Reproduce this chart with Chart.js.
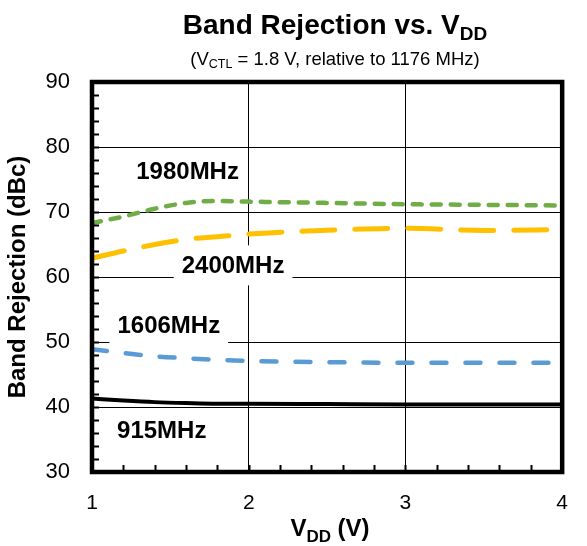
<!DOCTYPE html>
<html>
<head>
<meta charset="utf-8">
<script src="https://cdn.jsdelivr.net/npm/chart.js@4.4.1/dist/chart.umd.min.js"></script>
<style>
  html, body { margin: 0; padding: 0; background: #fff; }
  #wrap { width: 587px; height: 546px; position: relative; }
</style>
</head>
<body>
<div id="wrap"><canvas id="bandChart"></canvas></div>
<script>
// supply voltage points (V)
const vdd = [1, 1.2, 1.4, 1.6, 1.8, 2, 2.5, 3, 3.5, 4];
// band rejection (dBc), relative to 1176 MHz
const rej1980 = [68.3, 69.3, 70.5, 71.4, 71.7, 71.6, 71.4, 71.2, 71.1, 71.0];
const rej2400 = [62.9, 64.0, 65.0, 65.8, 66.2, 66.6, 67.2, 67.5, 67.15, 67.3];
const rej1606 = [48.9, 48.3, 47.8, 47.5, 47.25, 47.1, 46.9, 46.8, 46.8, 46.8];
const rej915 = [41.3, 41.0, 40.75, 40.6, 40.5, 40.5, 40.45, 40.4, 40.4, 40.4];

const xTicks = [1, 2, 3, 4];
const yTicks = [30, 40, 50, 60, 70, 80, 90];

// in-plot series labels
const bandLabels = ['1980MHz', '2400MHz', '1606MHz', '915MHz'];
const labelVdd = [1.61, 1.9, 1.49, 1.445];
const labelRej = [76.3, 61.8, 52.5, 36.4];

const FONT = '"Liberation Sans", Arial, sans-serif';

function pts(ys) {
  return vdd.map((v, i) => ({ x: v, y: ys[i] }));
}

// draws text pieces with subscripts, centred on cx
function drawParts(ctx, parts, cx, y) {
  let total = 0;
  parts.forEach(p => {
    ctx.font = p.font;
    p.w = ctx.measureText(p.t).width;
    total += p.w;
  });
  let x = cx - total / 2;
  ctx.textAlign = 'left';
  ctx.textBaseline = 'alphabetic';
  parts.forEach(p => {
    ctx.font = p.font;
    ctx.fillText(p.t, x, y + (p.dy || 0));
    x += p.w;
  });
}

const decorations = {
  id: 'decorations',
  beforeDatasetsDraw(chart) {
    const { ctx, scales } = chart;
    ctx.save();
    ctx.font = 'bold 24px ' + FONT;
    ctx.textAlign = 'center';
    ctx.textBaseline = 'middle';
    bandLabels.forEach((txt, i) => {
      const px = scales.x.getPixelForValue(labelVdd[i]);
      const py = scales.y.getPixelForValue(labelRej[i]);
      const w = ctx.measureText(txt).width;
      ctx.fillStyle = '#fff';
      ctx.fillRect(px - w / 2 - 8, py - 20, w + 16, 40);
      ctx.fillStyle = '#000';
      ctx.fillText(txt, px, py + 1);
    });
    ctx.restore();
  },
  afterDatasetsDraw(chart) {
    const { ctx, chartArea: a, scales } = chart;
    ctx.save();
    ctx.strokeStyle = '#000';
    // minor ticks
    ctx.lineWidth = 2;
    ctx.beginPath();
    for (let v = 32; v < 90; v += 2) {
      const py = Math.round(scales.y.getPixelForValue(v)) + 0.5;
      ctx.moveTo(a.left, py);
      ctx.lineTo(a.left + 7, py);
    }
    for (let k = 1; k < 15; k++) {
      const px = Math.round(scales.x.getPixelForValue(1 + k * 0.2)) + 0.5;
      ctx.moveTo(px, a.bottom);
      ctx.lineTo(px, a.bottom - 7);
    }
    ctx.stroke();
    // frame
    ctx.lineWidth = 4.5;
    ctx.strokeRect(a.left, a.top, a.right - a.left, a.bottom - a.top);
    ctx.restore();
  },
  afterDraw(chart) {
    const { ctx } = chart;
    ctx.save();
    ctx.fillStyle = '#000';
    drawParts(ctx, [
      { t: 'Band Rejection vs. V', font: 'bold 28px ' + FONT },
      { t: 'DD', font: 'bold 19px ' + FONT, dy: 6 }
    ], 335, 34);
    drawParts(ctx, [
      { t: '(V', font: '18.5px ' + FONT },
      { t: 'CTL', font: '12.5px ' + FONT, dy: 3 },
      { t: ' = 1.8 V, relative to 1176 MHz)', font: '18.5px ' + FONT }
    ], 335, 65);
    drawParts(ctx, [
      { t: 'V', font: 'bold 24px ' + FONT },
      { t: 'DD', font: 'bold 17px ' + FONT, dy: 6 },
      { t: ' (V)', font: 'bold 24px ' + FONT }
    ], 330, 536);
    ctx.restore();
  }
};

const ctx = document.getElementById('bandChart').getContext('2d');

const chart = new Chart(ctx, {
  type: 'line',
  data: {
    datasets: [
      {
        label: '1980MHz',
        data: pts(rej1980),
        borderColor: '#70AD47',
        borderWidth: 4.5,
        borderDash: [9, 10],
        borderCapStyle: 'round',
      },
      {
        label: '2400MHz',
        data: pts(rej2400),
        borderColor: '#FFC000',
        borderWidth: 5,
        borderDash: [33, 20],
        borderCapStyle: 'round',
      },
      {
        label: '1606MHz',
        data: pts(rej1606),
        borderColor: '#5B9BD5',
        borderWidth: 4.5,
        borderDash: [15, 19],
        borderCapStyle: 'round',
      },
      {
        label: '915MHz',
        data: pts(rej915),
        borderColor: '#000000',
        borderWidth: 4,
      },
    ],
  },
  options: {
    responsive: true,
    maintainAspectRatio: false,
    animation: false,
    layout: { padding: { top: 82, right: 8, left: 0, bottom: 0 } },
    elements: {
      point: { radius: 0 },
      line: { cubicInterpolationMode: 'monotone', fill: false },
    },
    plugins: {
      legend: { display: false },
      tooltip: { enabled: false },
      title: { display: false },
    },
    scales: {
      x: {
        type: 'linear',
        min: 1,
        max: 4,
        afterFit: s => { s.height = 74; },
        afterBuildTicks: s => { s.ticks = xTicks.map(v => ({ value: v })); },
        ticks: {
          color: '#000',
          font: { family: FONT, size: 21 },
          padding: 19,
          maxRotation: 0,
        },
        grid: { color: '#000', lineWidth: 1, drawTicks: false },
        border: { display: false },
      },
      y: {
        min: 30,
        max: 90,
        afterFit: s => { s.width = 92; },
        afterBuildTicks: s => { s.ticks = yTicks.map(v => ({ value: v })); },
        ticks: {
          color: '#000',
          font: { family: FONT, size: 22 },
          padding: 22,
        },
        grid: { color: '#000', lineWidth: 1, drawTicks: false },
        border: { display: false },
        title: {
          display: true,
          text: 'Band Rejection (dBc)',
          color: '#000',
          font: { family: FONT, size: 24, weight: 'bold' },
          padding: { top: 4, bottom: 0 },
        },
      },
    },
  },
  plugins: [decorations],
});
</script>
</body>
</html>
